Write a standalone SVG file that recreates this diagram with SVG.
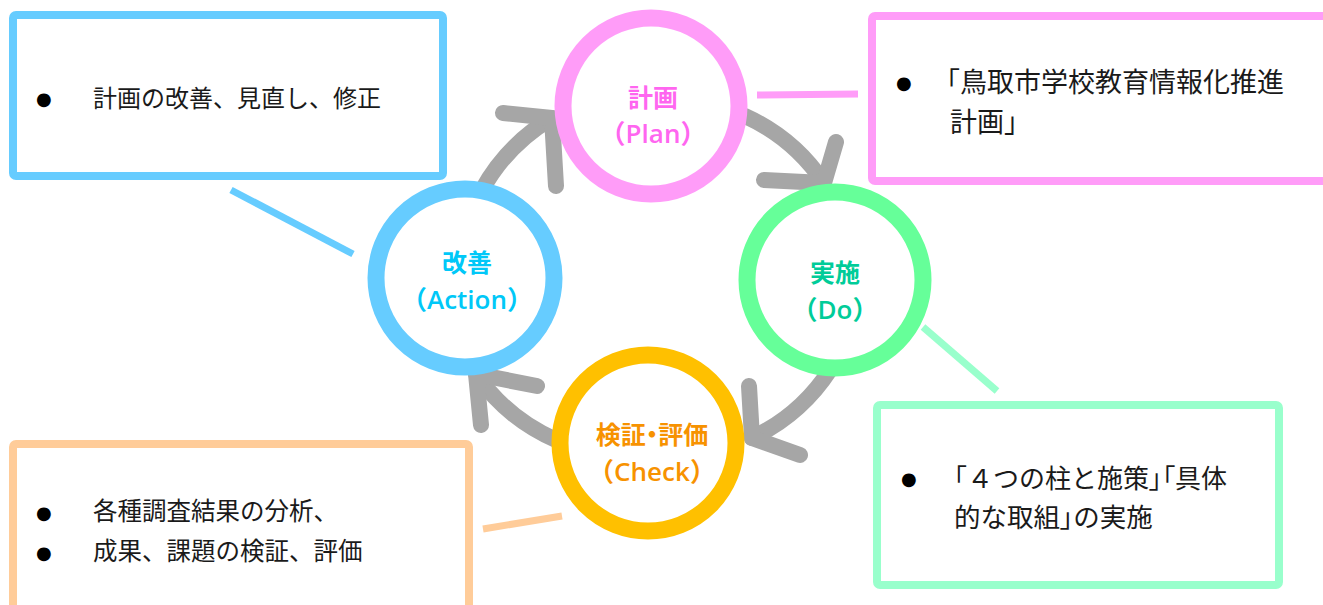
<svg xmlns="http://www.w3.org/2000/svg" width="1323" height="605" viewBox="0 0 1323 605">
<style>
.box{fill:#fff;stroke-width:8;stroke-linejoin:round}
.ring{fill:#fff;stroke-width:17}
.lbl{font-family:"Noto Sans CJK JP","Noto Sans",sans-serif;font-weight:bold;font-size:25px;text-anchor:middle}
.lat{font-family:"Open Sans","Noto Sans CJK JP",sans-serif;font-weight:600;font-size:26px;text-anchor:middle}
.txt{font-family:"Noto Sans CJK JP","Noto Sans",sans-serif;font-size:24px;fill:#1a1a1a}
.bul{font-family:"DejaVu Sans",sans-serif;font-size:18px;fill:#000}
.arc{fill:none;stroke:#a6a6a6;stroke-width:16;stroke-linecap:round;stroke-linejoin:round}
.call{stroke-width:7;fill:none}
.palt{font-feature-settings:"palt"}
</style>
<rect width="1323" height="605" fill="#fff"/>
<g id="connectors">
<path class="arc" d="M482,190 A190,190 0 0 1 552,118"/>
<polyline class="arc" points="503,113 552,118 556,186"/>
<path class="arc" d="M745,116 A190,190 0 0 1 824,183"/>
<polyline class="arc" points="836,142 824,183 764,180"/>
<path class="arc" d="M830,370 A190,190 0 0 1 752,438"/>
<polyline class="arc" points="749,386 752,438 800,455"/>
<path class="arc" d="M556,440 A190,190 0 0 1 476,374"/>
<polyline class="arc" points="537,386 476,374 481,425"/>
<line class="call" x1="231" y1="190" x2="353" y2="254" stroke="#66ccff"/>
<line class="call" x1="757" y1="95" x2="858" y2="94" stroke="#ff9cf8" stroke-width="8"/>
<line class="call" x1="923" y1="327" x2="997" y2="391" stroke="#99ffcc"/>
<line class="call" x1="483" y1="529" x2="562" y2="516" stroke="#ffcc99"/>
</g>
<g id="box-action">
<rect class="box" x="13" y="15" width="430" height="161" rx="3" stroke="#66ccff"/>
<text class="bul" x="36" y="105">●</text>
<text class="txt" x="93" y="107">計画の改善、見直し、修正</text>
</g>
<g id="box-plan">
<rect class="box" x="872" y="16" width="480" height="165" rx="3" stroke="#ff9cf8"/>
<text class="bul" x="896" y="89">●</text>
<text class="txt" x="933" y="92" style="font-size:27px">「鳥取市学校教育情報化推進</text>
<text class="txt" x="950" y="132" style="font-size:27px">計画」</text>
</g>
<g id="box-do">
<rect class="box" x="877" y="405" width="402" height="180" rx="3" stroke="#99ffcc"/>
<text class="bul" x="901" y="485">●</text>
<text class="txt" x="941" y="488" style="font-size:26px">「４つの柱と施策<tspan class="palt">」「</tspan>具体</text>
<text class="txt" x="954" y="527" style="font-size:26.5px">的な取組<tspan class="palt">」</tspan>の実施</text>
</g>
<g id="box-check">
<rect class="box" x="13" y="444" width="456" height="200" rx="3" stroke="#ffcc99"/>
<text class="bul" x="36" y="519">●</text>
<text class="txt" x="93" y="520" style="font-size:24.5px">各種調査結果の分析、</text>
<text class="bul" x="36" y="559">●</text>
<text class="txt" x="93" y="560" style="font-size:24.5px">成果、課題の検証、評価</text>
</g>
<g id="node-plan">
<circle class="ring" cx="651" cy="106" r="88" stroke="#ff9cf8"/>
<text class="lbl" x="653" y="107" fill="#ff66f0">計画</text>
<text class="lat" x="653" y="143" fill="#ff66f0">（Plan）</text>
</g>
<g id="node-action">
<circle class="ring" cx="465" cy="278" r="89" stroke="#66ccff"/>
<text class="lbl" x="467" y="272" fill="#00c8f8">改善</text>
<text class="lat" x="467" y="309" fill="#00c8f8">（Action）</text>
</g>
<g id="node-do">
<circle class="ring" cx="835" cy="280" r="88" stroke="#66ff99"/>
<text class="lbl" x="835" y="282" fill="#00cc99">実施</text>
<text class="lat" x="835" y="319" fill="#00cc99">（Do）</text>
</g>
<g id="node-check">
<circle class="ring" cx="648" cy="443" r="88" stroke="#ffc000"/>
<text class="lbl palt" x="652" y="444" fill="#f79200">検証・評価</text>
<text class="lat" x="652" y="481" fill="#f79200">（Check）</text>
</g>
</svg>
